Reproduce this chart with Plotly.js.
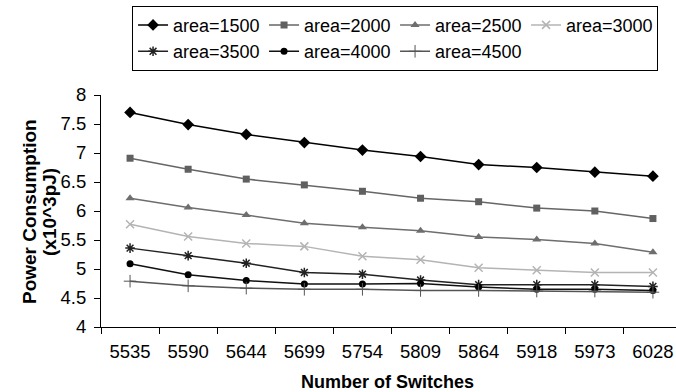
<!DOCTYPE html>
<html>
<head>
<meta charset="utf-8">
<script src="https://cdn.plot.ly/plotly-3.0.1.min.js"></script>
<style>html,body{margin:0;padding:0;background:#fff;}#chart{width:676px;height:392px;}</style>
</head>
<body>
<div id="chart"></div>
<script>
var switches = ['5535','5590','5644','5699','5754','5809','5864','5918','5973','6028'];
var seriesNames = ['area=1500','area=2000','area=2500','area=3000','area=3500','area=4000','area=4500'];
var p1500 = [7.70, 7.49, 7.32, 7.18, 7.05, 6.94, 6.80, 6.75, 6.67, 6.60];
var p2000 = [6.91, 6.72, 6.55, 6.45, 6.34, 6.22, 6.16, 6.05, 6.00, 5.87];
var p2500 = [6.22, 6.06, 5.93, 5.79, 5.72, 5.66, 5.55, 5.51, 5.44, 5.29];
var p3000 = [5.77, 5.56, 5.44, 5.39, 5.22, 5.16, 5.02, 4.98, 4.94, 4.94];
var p3500 = [5.36, 5.23, 5.10, 4.94, 4.91, 4.81, 4.73, 4.73, 4.73, 4.70];
var p4000 = [5.09, 4.90, 4.80, 4.74, 4.74, 4.75, 4.69, 4.65, 4.65, 4.63];
var p4500 = [4.79, 4.71, 4.67, 4.65, 4.65, 4.63, 4.63, 4.62, 4.62, 4.60];
var yTicks = [4, 4.5, 5, 5.5, 6, 6.5, 7, 7.5, 8];

var values = [p1500, p2000, p2500, p3000, p3500, p4000, p4500];
var styles = [
  {lc:'#000000', sym:'diamond', ms:9, mc:'#000000', ml:0},
  {lc:'#666666', sym:'square', ms:7, mc:'#606060', ml:0},
  {lc:'#6e6e6e', sym:'triangle-up', ms:8, mc:'#6e6e6e', ml:0},
  {lc:'#b4b4b4', sym:'x-thin-open', ms:8, mc:'#b4b4b4', ml:1.5},
  {lc:'#222222', sym:'asterisk-open', ms:8, mc:'#222222', ml:1.5},
  {lc:'#111111', sym:'circle', ms:7, mc:'#000000', ml:0},
  {lc:'#555555', sym:'cross-thin-open', ms:9, mc:'#555555', ml:1}
];

var FONT = 'Liberation Sans, Arial, sans-serif';
var traces = values.map(function(v, i){
  var s = styles[i];
  return {
    type:'scatter', mode:'lines+markers', name: seriesNames[i],
    x: switches, y: v,
    line:{color:s.lc, width:1.5},
    marker:{symbol:s.sym, size:s.ms, color:s.mc, line:{color:s.mc, width:s.ml}}
  };
});

var layout = {
  width:676, height:392,
  margin:{l:101, r:0, t:95, b:65, pad:0},
  paper_bgcolor:'#ffffff', plot_bgcolor:'#ffffff',
  font:{family:FONT, size:18, color:'#000'},
  showlegend:true,
  legend:{
    orientation:'h', x:0.054, xanchor:'left', y:1.385, yanchor:'top',
    bordercolor:'#000', borderwidth:1, bgcolor:'#fff',
    entrywidth:86, entrywidthmode:'pixels',
    font:{family:FONT, size:18, color:'#000'},
    itemwidth:30, tracegroupgap:0
  },
  xaxis:{
    type:'category', range:[-0.5, 9.397],
    showline:true, linecolor:'#000', linewidth:1,
    ticks:'outside', ticklen:6, tickcolor:'#000', tickson:'boundaries',
    showgrid:false, zeroline:false, ticklabelstandoff:8,
    tickfont:{family:FONT, size:18.5, color:'#000'}
  },
  yaxis:{
    range:[4,8], tickvals:yTicks, ticktext:yTicks.map(String),
    showline:true, linecolor:'#000', linewidth:1,
    ticks:'outside', ticklen:6, tickcolor:'#000',
    showgrid:false, zeroline:false, ticklabelstandoff:4,
    tickfont:{family:FONT, size:18.5, color:'#000'}
  },
  annotations:[
    {text:'<b>Number of Switches</b>', xref:'paper', yref:'paper', x:(387-101)/575, y:0, yshift:-(381.7-327), xanchor:'center', yanchor:'middle', showarrow:false, font:{family:FONT, size:18, color:'#000'}},
    {text:'<b>Power Consumption</b>', textangle:-90, xref:'paper', yref:'paper', x:0, xshift:-(101-29), y:0.5, yshift:-1, xanchor:'center', yanchor:'middle', showarrow:false, font:{family:FONT, size:19, color:'#000'}},
    {text:'<b>(x10^3pJ)</b>', textangle:-90, xref:'paper', yref:'paper', x:0, xshift:-(101-49), y:0.5, yshift:-1, xanchor:'center', yanchor:'middle', showarrow:false, font:{family:FONT, size:19, color:'#000'}}
  ]
};

Plotly.newPlot('chart', traces, layout, {displayModeBar:false, staticPlot:true});
</script>
</body>
</html>
